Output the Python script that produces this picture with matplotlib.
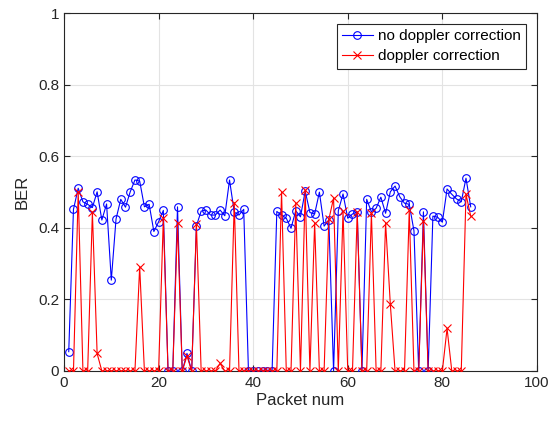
"""
BER per packet, with and without doppler correction.
"""

import matplotlib

matplotlib.use("Agg")
import matplotlib.pyplot as plt
import numpy as np

packet_num = list(range(1, 87))

ber_no_doppler = [
    0.054, 0.452, 0.511, 0.473, 0.466, 0.457, 0.501, 0.422, 0.467, 0.254,
    0.425, 0.480, 0.458, 0.501, 0.534, 0.531, 0.459, 0.466, 0.390, 0.417,
    0.449, 0.0, 0.0, 0.459, 0.0, 0.049, 0.0, 0.406, 0.447, 0.450,
    0.436, 0.436, 0.450, 0.434, 0.534, 0.444, 0.436, 0.452, 0.0, 0.0,
    0.0, 0.0, 0.0, 0.0, 0.446, 0.436, 0.427, 0.399, 0.448, 0.431,
    0.503, 0.443, 0.439, 0.500, 0.405, 0.422, 0.0, 0.448, 0.495, 0.427,
    0.439, 0.445, 0.0, 0.480, 0.445, 0.455, 0.486, 0.441, 0.501, 0.517,
    0.487, 0.469, 0.466, 0.392, 0.0, 0.445, 0.0, 0.433, 0.430, 0.416,
    0.509, 0.494, 0.481, 0.473, 0.539, 0.459,
]

ber_doppler = [
    0.0, 0.0, 0.501, 0.0, 0.0, 0.444, 0.049, 0.0, 0.0, 0.0,
    0.0, 0.0, 0.0, 0.0, 0.0, 0.292, 0.0, 0.0, 0.0, 0.0,
    0.427, 0.0, 0.0, 0.413, 0.0, 0.042, 0.0, 0.410, 0.0, 0.0,
    0.0, 0.0, 0.021, 0.0, 0.0, 0.471, 0.0, 0.0, 0.0, 0.0,
    0.0, 0.0, 0.0, 0.0, 0.0, 0.501, 0.0, 0.0, 0.469, 0.0,
    0.505, 0.0, 0.414, 0.0, 0.0, 0.424, 0.483, 0.0, 0.447, 0.0,
    0.0, 0.444, 0.0, 0.0, 0.441, 0.0, 0.0, 0.414, 0.187, 0.0,
    0.0, 0.0, 0.449, 0.0, 0.0, 0.419, 0.0, 0.0, 0.0, 0.0,
    0.119, 0.0, 0.0, 0.0, 0.494, 0.433,
]

AX_COLOR = "#262626"


def main() -> None:
    plt.rcParams["font.family"] = ["Liberation Sans", "DejaVu Sans"]

    fig = plt.figure(figsize=(5.49, 4.24), dpi=100)
    ax = fig.add_axes([0.1166, 0.125, 0.8614, 0.8436])

    ax.plot(packet_num, ber_no_doppler, color="blue", lw=0.8, marker="o",
            ms=5.5, mfc="none", mew=0.8, label="no doppler correction", zorder=3)
    ax.plot(packet_num, ber_doppler, color="red", lw=0.8, marker="x",
            ms=5.5, mew=0.8, label="doppler correction", zorder=3)

    ax.set_xlim(0, 100)
    ax.set_ylim(0, 1)
    ax.set_xticks(np.arange(0, 101, 20))
    ax.set_yticks([0, 0.2, 0.4, 0.6, 0.8, 1])
    ax.set_yticklabels(["0", "0.2", "0.4", "0.6", "0.8", "1"])
    ax.grid(True, color="#e3e3e3", lw=0.8)
    ax.set_axisbelow(True)

    for side in ax.spines.values():
        side.set_color(AX_COLOR)
        side.set_linewidth(0.8)
    ax.tick_params(direction="in", top=True, right=True, length=4,
                   width=0.8, color=AX_COLOR, labelcolor=AX_COLOR, labelsize=11)

    ax.set_xlabel("Packet num", fontsize=12, color=AX_COLOR, labelpad=2)
    ax.set_ylabel("BER", fontsize=12, color=AX_COLOR, labelpad=6)

    leg = ax.legend(loc="upper right", fontsize=11, fancybox=False,
                    framealpha=1, borderpad=0.35, handlelength=2.0,
                    labelspacing=0.38, borderaxespad=0.7, handletextpad=0.35)
    leg.get_frame().set_edgecolor(AX_COLOR)
    leg.get_frame().set_linewidth(0.8)

    fig.savefig("out.png", dpi=100)
    plt.close(fig)


if __name__ == "__main__":
    main()
